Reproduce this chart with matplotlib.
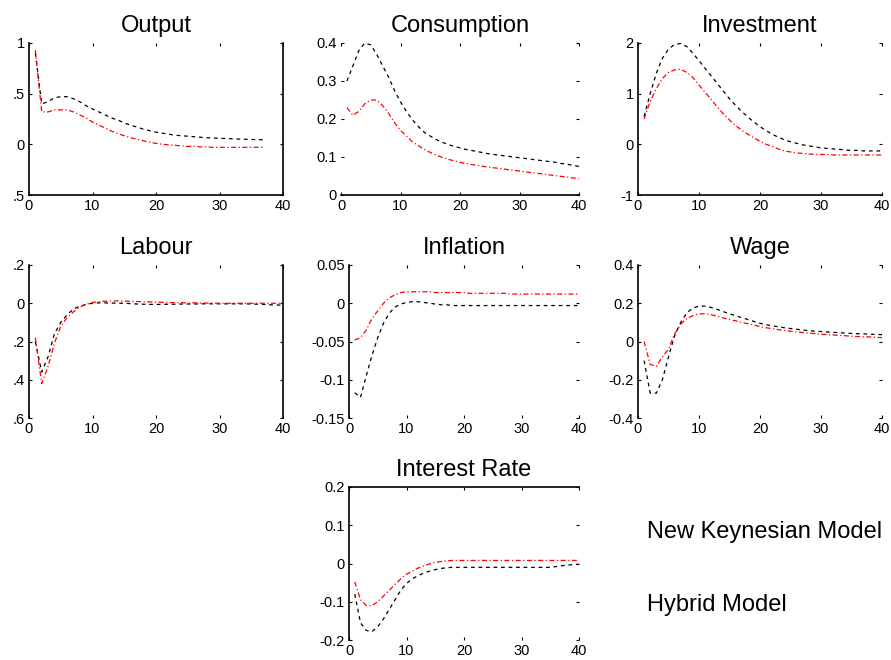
import matplotlib
matplotlib.use('Agg')
import matplotlib.pyplot as plt
import numpy as np

plt.rcParams['font.family'] = ['Liberation Sans', 'DejaVu Sans']

# quarters after the shock
periods = np.arange(1, 41)
periods_output = np.arange(1, 38)

# New Keynesian model (black) and hybrid model (red) responses
output_nk = [0.90, 0.40, 0.42, 0.46, 0.47, 0.47, 0.45, 0.42, 0.38, 0.35,
             0.32, 0.29, 0.26, 0.24, 0.21, 0.19, 0.17, 0.15, 0.135, 0.12,
             0.11, 0.10, 0.09, 0.085, 0.08, 0.075, 0.07, 0.065, 0.062, 0.06,
             0.057, 0.055, 0.052, 0.05, 0.048, 0.046, 0.045]
output_hy = [0.93, 0.32, 0.32, 0.34, 0.34, 0.34, 0.32, 0.29, 0.26, 0.22,
             0.19, 0.16, 0.13, 0.105, 0.085, 0.065, 0.05, 0.035, 0.02, 0.01,
             0.0, -0.005, -0.01, -0.015, -0.02, -0.02, -0.025, -0.025, -0.03, -0.03,
             -0.03, -0.03, -0.03, -0.03, -0.03, -0.03, -0.03]

consumption_nk = [0.30, 0.34, 0.38, 0.40, 0.395, 0.37, 0.34, 0.31, 0.275, 0.245,
                  0.22, 0.198, 0.18, 0.165, 0.155, 0.146, 0.139, 0.133, 0.128, 0.124,
                  0.12, 0.117, 0.114, 0.111, 0.108, 0.106, 0.104, 0.102, 0.10, 0.098,
                  0.096, 0.094, 0.092, 0.09, 0.088, 0.086, 0.083, 0.081, 0.078, 0.075]
consumption_hy = [0.23, 0.21, 0.22, 0.24, 0.25, 0.25, 0.235, 0.215, 0.19, 0.17,
                  0.155, 0.14, 0.13, 0.12, 0.112, 0.105, 0.099, 0.094, 0.09, 0.086,
                  0.083, 0.08, 0.078, 0.075, 0.073, 0.071, 0.069, 0.067, 0.065, 0.063,
                  0.061, 0.059, 0.057, 0.055, 0.053, 0.051, 0.049, 0.047, 0.045, 0.043]

investment_nk = [0.55, 1.0, 1.4, 1.7, 1.88, 1.97, 1.99, 1.93, 1.8, 1.65,
                 1.5, 1.35, 1.2, 1.05, 0.9, 0.77, 0.65, 0.54, 0.44, 0.35,
                 0.27, 0.2, 0.14, 0.09, 0.05, 0.02, -0.01, -0.03, -0.05, -0.07,
                 -0.08, -0.09, -0.1, -0.11, -0.12, -0.12, -0.13, -0.13, -0.13, -0.13]
investment_hy = [0.5, 0.85, 1.1, 1.3, 1.42, 1.47, 1.48, 1.42, 1.32, 1.17,
                 1.03, 0.88, 0.74, 0.6, 0.48, 0.37, 0.28, 0.2, 0.13, 0.06,
                 0.0, -0.04, -0.09, -0.13, -0.15, -0.17, -0.18, -0.19, -0.2, -0.2,
                 -0.2, -0.21, -0.21, -0.21, -0.21, -0.21, -0.21, -0.21, -0.21, -0.21]

labour_nk = [-0.2, -0.36, -0.28, -0.16, -0.1, -0.06, -0.03, -0.015, -0.006, 0.0,
             0.002, 0.002, 0.001, 0.0, 0.0, -0.002, -0.004, -0.005, -0.006, -0.006,
             -0.006, -0.005, -0.005, -0.004, -0.004, -0.004, -0.003, -0.003, -0.003, -0.003,
             -0.003, -0.003, -0.003, -0.003, -0.004, -0.005, -0.006, -0.008, -0.009, -0.01]
labour_hy = [-0.18, -0.42, -0.33, -0.21, -0.12, -0.075, -0.045, -0.02, -0.005, 0.004,
             0.008, 0.011, 0.012, 0.012, 0.011, 0.01, 0.009, 0.008, 0.007, 0.006,
             0.005, 0.004, 0.003, 0.003, 0.002, 0.002, 0.001, 0.001, 0.001, 0.0,
             0.0, 0.0, 0.0, 0.0, 0.0, 0.0, 0.0, 0.0, 0.0, 0.0]

inflation_nk = [-0.117, -0.123, -0.095, -0.068, -0.045, -0.026, -0.013, -0.005, -0.001, 0.001,
                0.002, 0.002, 0.001, 0.0, -0.001, -0.002, -0.002, -0.003, -0.003, -0.003,
                -0.003, -0.003, -0.003, -0.003, -0.003, -0.003, -0.003, -0.003, -0.003, -0.003,
                -0.003, -0.003, -0.003, -0.003, -0.003, -0.003, -0.003, -0.003, -0.003, -0.003]
inflation_hy = [-0.048, -0.045, -0.035, -0.02, -0.01, 0.0, 0.007, 0.011, 0.014, 0.015,
                0.015, 0.015, 0.015, 0.015, 0.014, 0.014, 0.014, 0.014, 0.014, 0.014,
                0.013, 0.013, 0.013, 0.013, 0.013, 0.013, 0.013, 0.012, 0.012, 0.012,
                0.012, 0.012, 0.012, 0.012, 0.012, 0.012, 0.012, 0.012, 0.012, 0.012]

wage_nk = [-0.1, -0.27, -0.27, -0.2, -0.08, 0.03, 0.1, 0.15, 0.175, 0.185,
           0.185, 0.178, 0.168, 0.156, 0.145, 0.135, 0.125, 0.115, 0.105, 0.095,
           0.088, 0.082, 0.077, 0.072, 0.068, 0.064, 0.06, 0.057, 0.054, 0.052,
           0.05, 0.048, 0.046, 0.044, 0.042, 0.041, 0.04, 0.038, 0.037, 0.036]
wage_hy = [0.0, -0.12, -0.13, -0.08, -0.04, 0.04, 0.09, 0.12, 0.135, 0.145,
           0.145, 0.14, 0.132, 0.123, 0.115, 0.108, 0.1, 0.093, 0.086, 0.078,
           0.072, 0.067, 0.062, 0.058, 0.054, 0.05, 0.047, 0.044, 0.041, 0.038,
           0.036, 0.034, 0.032, 0.03, 0.028, 0.026, 0.025, 0.024, 0.022, 0.02]

interest_nk = [-0.08, -0.155, -0.175, -0.178, -0.165, -0.145, -0.12, -0.095, -0.07, -0.052,
               -0.04, -0.032, -0.025, -0.02, -0.016, -0.013, -0.011, -0.01, -0.01, -0.01,
               -0.01, -0.01, -0.01, -0.01, -0.01, -0.01, -0.01, -0.01, -0.01, -0.01,
               -0.01, -0.01, -0.01, -0.01, -0.01, -0.008, -0.006, -0.004, -0.003, -0.002]
interest_hy = [-0.048, -0.095, -0.11, -0.11, -0.1, -0.085, -0.07, -0.055, -0.04, -0.028,
               -0.02, -0.012, -0.006, -0.001, 0.003, 0.005, 0.007, 0.008, 0.008, 0.008,
               0.008, 0.008, 0.008, 0.008, 0.008, 0.008, 0.008, 0.008, 0.008, 0.008,
               0.008, 0.008, 0.008, 0.008, 0.008, 0.008, 0.008, 0.008, 0.008, 0.008]

W, H = 891.0, 660.0
fig = plt.figure(figsize=(W / 100, H / 100), dpi=100)


def make_axes(x0, x1, y0, y1):
    # pixel box -> figure fraction
    return fig.add_axes([x0 / W, 1 - y1 / H, (x1 - x0) / W, (y1 - y0) / H])


def panel(ax, title, x, nk, hy, ylim, yticks, ylabels, spines):
    ax.plot(x, nk, color='black', linestyle=(0, (3, 3)), linewidth=0.9)
    ax.plot(x, hy, color='red', linestyle=(0, (4, 2, 1, 2)), linewidth=0.9)
    ax.set_xlim(0, 40)
    ax.set_ylim(*ylim)
    ax.set_xticks([0, 10, 20, 30, 40])
    ax.set_yticks(yticks)
    ax.set_yticklabels(ylabels)
    ax.set_title(title, fontsize=17, pad=8)
    ax.tick_params(labelsize=10.5, direction='in', length=2, width=0.8, pad=3,
                   top=True, right=True)
    for side in ['left', 'right', 'top', 'bottom']:
        ax.spines[side].set_visible(side in spines)
        ax.spines[side].set_linewidth(1.2)


ax = make_axes(29, 283, 43, 195)
panel(ax, 'Output', periods_output, output_nk, output_hy, (-0.5, 1),
      [-0.5, 0, 0.5, 1], ['.5', '0', '.5', '1'], ['left', 'right', 'bottom'])

ax = make_axes(341, 579, 43, 195)
panel(ax, 'Consumption', periods, consumption_nk, consumption_hy, (0, 0.4),
      [0, 0.1, 0.2, 0.3, 0.4], ['0', '0.1', '0.2', '0.3', '0.4'], ['bottom'])

ax = make_axes(638, 882, 43, 195)
panel(ax, 'Investment', periods, investment_nk, investment_hy, (-1, 2),
      [-1, 0, 1, 2], ['-1', '0', '1', '2'], ['left', 'bottom'])

ax = make_axes(29, 283, 265, 418)
panel(ax, 'Labour', periods, labour_nk, labour_hy, (-0.6, 0.2),
      [-0.6, -0.4, -0.2, 0, 0.2], ['.6', '.4', '.2', '0', '.2'], ['left', 'right'])

ax = make_axes(349, 579, 265, 418)
panel(ax, 'Inflation', periods, inflation_nk, inflation_hy, (-0.15, 0.05),
      [-0.15, -0.1, -0.05, 0, 0.05], ['-0.15', '-0.1', '-0.05', '0', '0.05'], ['left'])

ax = make_axes(638, 882, 265, 418)
panel(ax, 'Wage', periods, wage_nk, wage_hy, (-0.4, 0.4),
      [-0.4, -0.2, 0, 0.2, 0.4], ['-0.4', '-0.2', '0', '0.2', '0.4'], ['left'])

ax = make_axes(349, 579, 487, 640)
panel(ax, 'Interest Rate', periods, interest_nk, interest_hy, (-0.2, 0.2),
      [-0.2, -0.1, 0, 0.1, 0.2], ['-0.2', '-0.1', '0', '0.1', '0.2'], ['left', 'top'])

fig.text(647 / W, 1 - 532 / H, 'New Keynesian Model', fontsize=17, va='center', ha='left')
fig.text(647 / W, 1 - 605 / H, 'Hybrid Model', fontsize=17, va='center', ha='left')

plt.savefig('out.png', dpi=100)
